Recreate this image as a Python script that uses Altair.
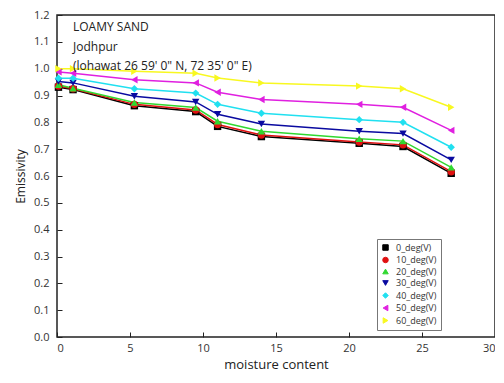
import altair as alt
import pandas as pd

moisture = [0.1, 1.1, 5.3, 9.5, 11.0, 14.0, 20.7, 23.7, 27.0]
series_names = ["0_deg(V)", "10_deg(V)", "20_deg(V)", "30_deg(V)", "40_deg(V)", "50_deg(V)", "60_deg(V)"]
em_0 = [0.931, 0.922, 0.862, 0.840, 0.785, 0.747, 0.722, 0.710, 0.610]
em_10 = [0.935, 0.925, 0.867, 0.846, 0.792, 0.753, 0.727, 0.716, 0.616]
em_20 = [0.940, 0.927, 0.874, 0.855, 0.804, 0.767, 0.739, 0.730, 0.632]
em_30 = [0.952, 0.947, 0.897, 0.876, 0.830, 0.794, 0.767, 0.758, 0.660]
em_40 = [0.964, 0.964, 0.925, 0.909, 0.867, 0.834, 0.810, 0.800, 0.707]
em_50 = [0.988, 0.983, 0.959, 0.947, 0.912, 0.885, 0.867, 0.856, 0.770]
em_60 = [1.000, 1.000, 0.990, 0.983, 0.965, 0.947, 0.935, 0.925, 0.856]
notes = ["LOAMY SAND", "Jodhpur", "(lohawat 26  59' 0\" N, 72  35' 0\" E)"]

colors = ["#000000", "#e01010", "#30d830", "#0a0aa0", "#20e0f0", "#e020e0", "#f8f820"]
shapes = ["square", "circle", "triangle-up", "triangle-down", "diamond", "triangle-left", "triangle-right"]

rows = []
for name, vals in zip(series_names, [em_0, em_10, em_20, em_30, em_40, em_50, em_60]):
    for xv, yv in zip(moisture, vals):
        rows.append({"moisture": xv, "emissivity": yv, "series": name})
df = pd.DataFrame(rows)

FONT = "Open Sans"

x = alt.X("moisture:Q", scale=alt.Scale(domain=[0, 30], nice=False),
          axis=alt.Axis(title="moisture content", values=[0, 5, 10, 15, 20, 25, 30],
                        domain=False, grid=False, offset=-5, tickSize=5, tickColor="#222",
                        labelPadding=5, labelFontSize=11, labelColor="#333", labelFont=FONT,
                        titleFontSize=13, titleFont=FONT, titleFontWeight="normal",
                        titleColor="#222", titlePadding=5))
y = alt.Y("emissivity:Q", scale=alt.Scale(domain=[0, 1.2], nice=False),
          axis=alt.Axis(title="Emissivity", values=[round(i * 0.1, 1) for i in range(13)], format=".1f",
                        domain=False, grid=False, offset=-5, tickSize=5, tickColor="#222",
                        labelPadding=8, labelFontSize=11, labelColor="#333", labelFont=FONT,
                        titleFontSize=12, titleFont=FONT, titleFontWeight="normal",
                        titleColor="#222", titlePadding=6))
color = alt.Color("series:N", sort=series_names,
                  scale=alt.Scale(domain=series_names, range=colors),
                  legend=alt.Legend(title=None, orient="none", legendX=320, legendY=224,
                                    labelFontSize=9, labelFont=FONT, labelColor="#333",
                                    symbolSize=30, rowPadding=1.5, padding=4, labelOffset=6,
                                    strokeColor="#777", fillColor="white", symbolStrokeWidth=1))
shape = alt.Shape("series:N", sort=series_names,
                  scale=alt.Scale(domain=series_names, range=shapes))

lines = alt.Chart(df).mark_line(strokeWidth=1.5).encode(x=x, y=y, color=color, detail="series:N")
pts = alt.Chart(df).mark_point(filled=True, size=55, opacity=1).encode(x=x, y=y, color=color, shape=shape)

text = alt.Chart(pd.DataFrame({"t": [0]})).mark_text(
    align="left", baseline="middle", fontSize=12, font=FONT, color="#222", lineHeight=19.5
).encode(x=alt.value(16), y=alt.value(12), text=alt.value(notes))

chart = alt.layer(lines, pts, text).properties(
    width=438, height=322,
    autosize=alt.AutoSizeParams(type="none"),
    padding={"left": 49, "top": 7, "right": 0, "bottom": 38},
).configure_view(stroke="#222", strokeWidth=1.5)

chart.save("out.html", embed_options={"renderer": "svg", "actions": False})
